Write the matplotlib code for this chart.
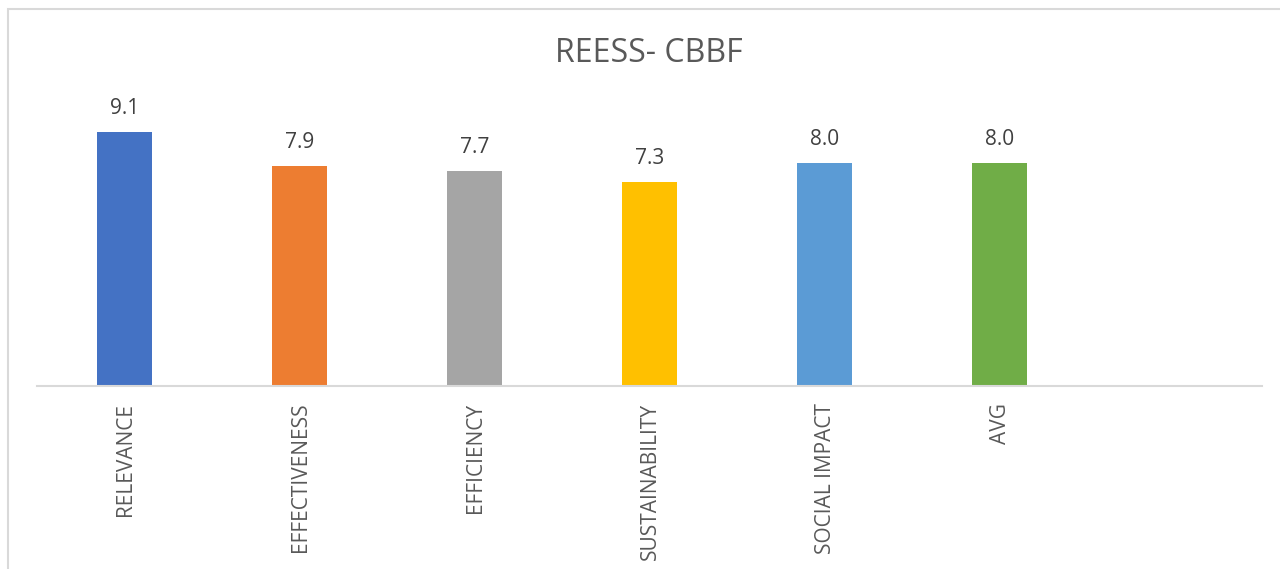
import numpy as np
import matplotlib
matplotlib.use('Agg')
import matplotlib.pyplot as plt
from matplotlib.patches import Rectangle

# data
categories = ['RELEVANCE', 'EFFECTIVENESS', 'EFFICIENCY', 'SUSTAINABILITY', 'SOCIAL IMPACT', 'AVG']
scores = [9.1, 7.9, 7.7, 7.3, 8.0, 8.0]
bar_colors = ['#4472C4', '#ED7D31', '#A5A5A5', '#FFC000', '#5B9BD5', '#70AD47']
title = 'REESS- CBBF'

plt.rcParams['font.family'] = ['Open Sans', 'DejaVu Sans']
txt = '#595959'

fig = plt.figure(figsize=(12.8, 5.69), dpi=100)
fig.patch.set_facecolor('white')

# light chart border (only left and top show in the crop)
fig.patches.append(Rectangle((8/1280, -0.2), 1.2, 1.2 - 9/569, transform=fig.transFigure,
                             fill=False, edgecolor='#D9D9D9', linewidth=1.5))

ax = fig.add_axes([37/1280, 1 - 386/569, 1225/1280, 279/569])
x = np.arange(len(categories))
ax.bar(x, scores, width=0.314, color=bar_colors)
ax.set_xlim(-0.5, 6.5)
ax.set_ylim(0, 10)

for s in ['top', 'right', 'left']:
    ax.spines[s].set_visible(False)
ax.spines['bottom'].set_color('#D9D9D9')
ax.spines['bottom'].set_linewidth(1.5)
ax.set_yticks([])
ax.set_xticks([])

# value labels
for i in range(len(scores)):
    ax.annotate('%.1f' % scores[i], (x[i], scores[i]), xytext=(0, 13), textcoords='offset points',
                ha='center', va='baseline', fontsize=15, color='#404040')

# category labels, rotated
for i in range(len(categories)):
    ax.annotate(categories[i], (x[i], 0), xycoords=('data', 'axes fraction'), xytext=(1, -12),
                textcoords='offset points', rotation=90, ha='center', va='top',
                fontsize=15, color=txt)

fig.text(649/1280, 1 - 54/569, title, ha='center', va='center', fontsize=23, color=txt)

plt.savefig('out.png', dpi=100)
